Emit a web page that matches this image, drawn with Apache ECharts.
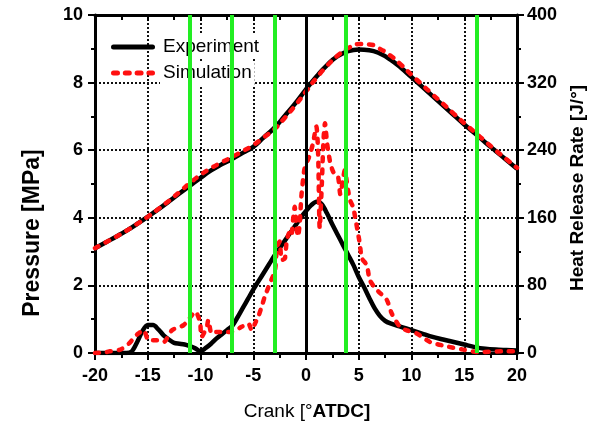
<!DOCTYPE html>
<html>
<head>
<meta charset="utf-8">
<script src="https://cdn.jsdelivr.net/npm/echarts@6/dist/echarts.min.js"></script>
<style>html,body{margin:0;padding:0;background:#fff;}#c{width:597px;height:431px;}</style>
</head>
<body>
<div id="c"></div>
<script>
// ---- data ----
const pressureCrank = [-20,-19,-18,-17,-16,-15,-14,-13,-12,-11,-10,-9,-8,-7,-6,-5,-4,-3,-2,-1,0,1,2,3,4,5,6,7,8,9,10,11,12,13,14,15,16,17,18,19,20];
const expPressure = [3.10,3.27,3.44,3.62,3.82,4.03,4.25,4.48,4.72,4.95,5.18,5.40,5.58,5.74,5.92,6.10,6.38,6.66,7.02,7.39,7.80,8.18,8.52,8.78,8.93,8.98,8.96,8.86,8.68,8.44,8.16,7.88,7.60,7.32,7.04,6.76,6.50,6.23,5.97,5.71,5.45];
const simPressure = [3.10,3.27,3.44,3.62,3.82,4.03,4.26,4.50,4.76,5.03,5.27,5.47,5.64,5.80,5.97,6.15,6.38,6.62,6.96,7.33,7.74,8.14,8.50,8.80,9.02,9.14,9.13,9.00,8.80,8.53,8.23,7.94,7.65,7.37,7.08,6.80,6.53,6.26,5.99,5.73,5.48];

const expHrrCrank = [-20,-17,-16.5,-16,-15.5,-15,-14.5,-14,-13.5,-13,-12.5,-12,-11.5,-11,-10.5,-10,-9.5,-9,-8.5,-8,-7.5,-7,-6.5,-6,-5.5,-5,-4.5,-4,-3.5,-3,-2.5,-2,-1.5,-1,-0.5,0,0.5,1,1.5,2,2.5,3,3.5,4,4.5,5,5.5,6,6.5,7,7.5,8,9,10,11,12,13,14,15,16,17,18,19,20];
const expHrr = [0,0,2,13,26,33,33,28,21,16,12,11,10,8,5.5,2,6,11,17,22,27,32,42,53,64,75,85,95,105,115,124,133,142,151,160,168,175,179,176,165,152,140,128,116,104,90,78,65,53,44,38,35,31,27,23,19,16,13,10,7,5,4,3.5,3];

const simHrrCrank = [-20,-19,-18.6,-17.6,-16.8,-16.3,-15.9,-15.4,-14.9,-14.15,-13.5,-12.7,-11.6,-10.8,-10.5,-10.05,-9.9,-9.4,-9.26,-8.94,-8.46,-7.84,-7.04,-6.1,-5.47,-5.15,-4.83,-4.52,-4.2,-3.9,-3.4,-2.94,-2.75,-2.5,-2.3,-2.0,-1.85,-1.6,-1.4,-1.23,-1.07,-0.9,-0.76,-0.6,-0.44,-0.28,-0.12,0.35,0.66,0.98,1.15,1.3,1.5,1.65,1.8,2.0,2.3,2.6,3.03,3.25,3.5,3.67,3.98,4.2,4.46,4.77,5.09,5.3,5.76,6.06,6.7,7.65,8.12,8.9,9.5,10.5,11.76,13.3,14.9,16.4,18.7,20];
const simHrr = [0,1,2,4,11,18,23,27,15,15,13,27,33,45,49,37,19,31,39,23,25,25,25,31,35,27,35,43,55,67,83,98,125,132,110,112,130,142,138,157,173,150,138,153,185,205,219,234,248,268,236,148,200,250,272,248,225,214,209,188,205,216,193,180,173,153,130,112,104,86,75,63,47,31,27,23,13,8,4,1,2,2];

const greenCrank = [-11,-7,-3,3.8,16.2];
const seriesNames = ['Experiment','Simulation'];
const pressureTicks = [0,2,4,6,8,10];
const hrrTicks = [0,80,160,240,320,400];

function pairs(xs, ys){ return xs.map((x,i)=>[x, ys[i]]); }

const chart = echarts.init(document.getElementById('c'), null, {renderer:'canvas'});
const FONT = 'Liberation Sans, Arial, sans-serif';
const gridDash = {color:'#111', width:2, type:[2,2]};
const tickLbl = {color:'#000', fontSize:18, fontWeight:'bold', fontFamily:FONT};

const expStyle = {color:'#000', width:4.5};
const simStyle = {color:'#ff1010', width:4.5, type:[4,8], cap:'round'};
const expIcon = 'path://M2.5,0h39a2.5,2.5 0 0 1 0,5h-39a2.5,2.5 0 0 1 0,-5z';
const simIcon = 'path://M2.5,0h4a2.5,2.5 0 0 1 0,5h-4a2.5,2.5 0 0 1 0,-5zM14.3,0h4a2.5,2.5 0 0 1 0,5h-4a2.5,2.5 0 0 1 0,-5zM26.1,0h4a2.5,2.5 0 0 1 0,5h-4a2.5,2.5 0 0 1 0,-5zM37.9,0h3.6a2.5,2.5 0 0 1 0,5h-3.6a2.5,2.5 0 0 1 0,-5z';

chart.setOption({
  animation:false,
  backgroundColor:'#fff',
  grid:{left:95, right:80, top:15, bottom:78},
  legend:{
    orient:'vertical', left:111, top:35, padding:0, itemGap:2,
    itemWidth:44, itemHeight:5, symbolKeepAspect:false,
    data:[{name:seriesNames[0], icon:expIcon, itemStyle:{color:'#000'}},
          {name:seriesNames[1], icon:simIcon, itemStyle:{color:'#ff1010'}}],
    textStyle:{fontSize:19, fontFamily:FONT, color:'#000', backgroundColor:'#fff', padding:[3,3,2,3]}
  },
  xAxis:[
    {type:'value', position:'bottom', min:-20, max:20, interval:5,
     axisLine:{onZero:false, lineStyle:{color:'#000', width:3}},
     axisTick:{inside:false, length:7, lineStyle:{width:2, color:'#000'}},
     minorTick:{show:true, splitNumber:2, length:5, lineStyle:{width:2, color:'#000'}},
     axisLabel:{...tickLbl, margin:14},
     splitLine:{show:true, lineStyle:gridDash}},
    {type:'value', position:'top', min:-20, max:20, interval:5,
     axisLine:{onZero:false, lineStyle:{color:'#000', width:3}},
     axisTick:{inside:true, length:6, lineStyle:{width:2, color:'#000'}},
     minorTick:{show:true, splitNumber:2, length:5, lineStyle:{width:2, color:'#000'}},
     axisLabel:{show:false}, splitLine:{show:false}}
  ],
  yAxis:[
    {type:'value', position:'left', min:0, max:10, interval:2,
     axisLine:{show:true, onZero:false, lineStyle:{color:'#000', width:3}},
     axisTick:{show:true, inside:false, length:7, lineStyle:{width:2, color:'#000'}},
     minorTick:{show:true, splitNumber:2, length:4, lineStyle:{width:2, color:'#000'}},
     axisLabel:{...tickLbl, margin:12, formatter:v=>pressureTicks.includes(v)?String(v):''},
     splitLine:{show:true, lineStyle:gridDash}},
    {type:'value', position:'right', min:0, max:400, interval:80,
     axisLine:{show:true, onZero:false, lineStyle:{color:'#000', width:3}},
     axisTick:{show:true, inside:false, length:7, lineStyle:{width:2, color:'#000'}},
     minorTick:{show:true, splitNumber:2, length:4, lineStyle:{width:2, color:'#000'}},
     axisLabel:{...tickLbl, margin:10, formatter:v=>hrrTicks.includes(v)?String(v):''},
     splitLine:{show:false}}
  ],
  series:[
    {type:'line', name:'_marks', data:[], xAxisIndex:0, yAxisIndex:0, z:1, silent:true,
     markLine:{silent:true, symbol:['none','none'], label:{show:false}, animation:false,
       data:[
         ...greenCrank.map(x=>({xAxis:x, lineStyle:{color:'#22ee22', width:4, type:'solid'}})),
         {xAxis:0, lineStyle:{color:'#000', width:3, type:'solid'}}
       ]}},
    {type:'line', name:'Experiment', data:pairs(pressureCrank, expPressure), yAxisIndex:0, smooth:true, symbol:'none', lineStyle:expStyle, itemStyle:{color:'#000'}, z:3},
    {type:'line', name:'Simulation', data:pairs(pressureCrank, simPressure), yAxisIndex:0, smooth:true, symbol:'none', lineStyle:simStyle, itemStyle:{color:'#ff1010'}, z:4},
    {type:'line', name:'Experiment', data:pairs(expHrrCrank, expHrr), yAxisIndex:1, smooth:0.3, symbol:'none', lineStyle:expStyle, itemStyle:{color:'#000'}, z:3},
    {type:'line', name:'Simulation', data:pairs(simHrrCrank, simHrr), yAxisIndex:1, smooth:0.25, symbol:'none', lineStyle:simStyle, itemStyle:{color:'#ff1010'}, z:4}
  ],
  graphic:[
    {type:'text', x:33, y:233, rotation:Math.PI/2, silent:true,
     style:{text:'Pressure [MPa]', font:'bold 23px '+FONT, fill:'#000', textAlign:'center', textVerticalAlign:'middle'}},
    {type:'text', x:578, y:188, rotation:Math.PI/2, silent:true,
     style:{text:'Heat Release Rate [J/°]', font:'bold 19px '+FONT, fill:'#000', textAlign:'center', textVerticalAlign:'middle'}},
    {type:'text', x:307, y:412, silent:true,
     style:{text:'{a|Crank [°}{b|ATDC]}', textAlign:'center', textVerticalAlign:'middle',
       rich:{a:{font:'19px '+FONT, fill:'#000'}, b:{font:'bold 19px '+FONT, fill:'#000'}}}}
  ]
});
</script>
</body>
</html>
